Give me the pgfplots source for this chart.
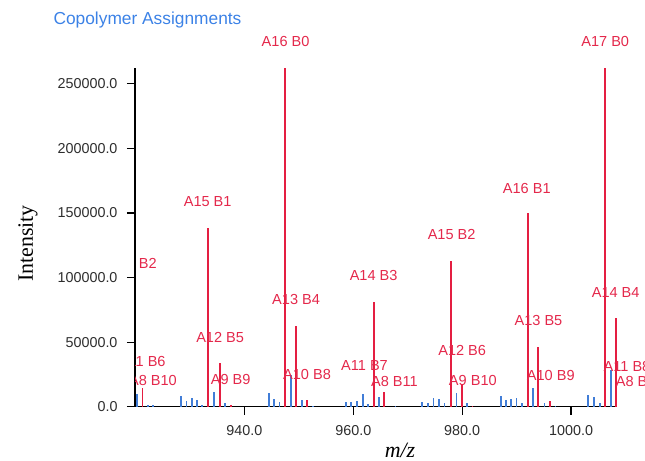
\documentclass[border=0pt]{standalone}
\usepackage{fontspec}
\setmainfont{Liberation Sans}
\newfontfamily\seriffont{Liberation Serif}
\usepackage{pgfplots}
\pgfplotsset{compat=1.18}
\definecolor{labred}{RGB}{228,40,75}
\definecolor{linered}{RGB}{228,30,65}
\definecolor{stickblue}{RGB}{65,125,215}
\definecolor{titleblue}{RGB}{60,130,230}
\definecolor{tickgray}{RGB}{45,45,45}
\tikzset{lab/.style={font=\fontsize{14.6}{17}\selectfont, text=labred, inner sep=0pt, anchor=center}}
\begin{document}
\begin{tikzpicture}[x=1bp,y=1bp]
\begin{axis}[
  at={(0,0)}, anchor=south west,
  scale only axis, width=482.3bp, height=338.4bp,
  xmin=919.9, xmax=1008.5, ymin=0, ymax=262000,
  axis x line*=bottom, axis y line*=left,
  axis line style={line width=1.2bp, black},
  clip=false,
  xtick={940,960,980,1000}, ytick={0,50000,100000,150000,200000,250000},
  scaled y ticks=false, scaled x ticks=false,
  tick align=outside, major tick length=8bp,
  tick style={line width=1.2bp, black},
  /pgf/number format/.cd, fixed, fixed zerofill, precision=1, 1000 sep={}, assume math mode=true,
  /pgfplots/.cd,
  tick label style={font=\fontsize{14.4}{17}\selectfont, text=tickgray},
  yticklabel style={xshift=-6bp},
  xticklabel style={yshift=-7bp},
]
\addplot[ycomb, no marks, draw=stickblue, line width=1.8bp] coordinates {
(920.22,9800) (922.24,1200) (923.16,1000) (928.39,8500) (929.36,4700) (930.31,6900) (931.23,5000) (932.24,1300) (934.44,11500) (936.50,3100)
(944.57,10500) (945.49,6000) (946.46,4000) (948.51,24500) (950.53,5000) (952.66,700)
(958.61,3300) (959.58,3300) (960.73,4700) (961.72,9800) (962.75,2300) (964.72,7800) (967.74,500)
(972.66,3300) (973.76,3100) (974.75,6500) (975.72,5700) (976.77,3100) (978.97,10900) (980.96,3200)
(987.10,8000) (988.11,5000) (989.03,5700) (989.98,7000) (990.99,3100) (993.01,14600) (995.12,3100) (997.14,500)
(1003.06,9200) (1004.22,7800) (1005.26,3100) (1007.28,28500)
};
\addplot[ycomb, no marks, draw=linered, line width=1.7bp] coordinates {
(921.28,14500) (933.34,138300) (935.54,34100) (937.56,1000) (947.50,262000) (949.49,62800) (951.50,5500)
(963.74,81200) (965.69,11400) (977.93,112900) (979.98,17500) (981.90,700)
(992.10,149900) (993.94,46500) (996.13,4300) (1006.24,262000) (1008.20,68500)
};
\begin{scope}
\clip (rel axis cs:0.002,-0.17) rectangle (rel axis cs:1.058,1.21);
\node[lab] at (axis cs:947.56,283100) {A16 B0};
\node[lab] at (axis cs:1006.28,283100) {A17 B0};
\node[lab] at (axis cs:933.25,158900) {A15 B1};
\node[lab] at (axis cs:991.87,169300) {A16 B1};
\node[lab] at (axis cs:978.06,133100) {A15 B2};
\node[lab] at (axis cs:963.74,101300) {A14 B3};
\node[lab] at (axis cs:949.49,82700) {A13 B4};
\node[lab] at (axis cs:935.54,53800) {A12 B5};
\node[lab] at (axis cs:919.52,111200) {A14 B2};
\node[lab] at (axis cs:921.23,34900) {A11 B6};
\node[lab] at (axis cs:923.19,20200) {A8 B10};
\node[lab] at (axis cs:937.47,20700) {A9 B9};
\node[lab] at (axis cs:951.50,25300) {A10 B8};
\node[lab] at (axis cs:962.06,31600) {A11 B7};
\node[lab] at (axis cs:967.56,19400) {A8 B11};
\node[lab] at (axis cs:980.00,43400) {A12 B6};
\node[lab] at (axis cs:981.96,20200) {A9 B10};
\node[lab] at (axis cs:994.02,66700) {A13 B5};
\node[lab] at (axis cs:996.28,24000) {A10 B9};
\node[lab] at (axis cs:1008.20,88400) {A14 B4};
\node[lab] at (axis cs:1010.28,31000) {A11 B8};
\node[lab] at (axis cs:1012.61,19400) {A8 B12};
\end{scope}
\end{axis}
\node[font=\fontsize{17.4}{20}\selectfont, text=titleblue, inner sep=0pt] at (12.5,386.7) {Copolymer Assignments};
\node[font=\seriffont\fontsize{22}{26}\selectfont, rotate=90, inner sep=0pt] at (-107,163.2) {Intensity};
\node[font=\seriffont\itshape\fontsize{22}{26}\selectfont, inner sep=0pt, anchor=base] at (265,-51) {m/z};
\pgfresetboundingbox
\path[use as bounding box] (-135,-54.3) rectangle (510,406.7);
\end{tikzpicture}
\end{document}
